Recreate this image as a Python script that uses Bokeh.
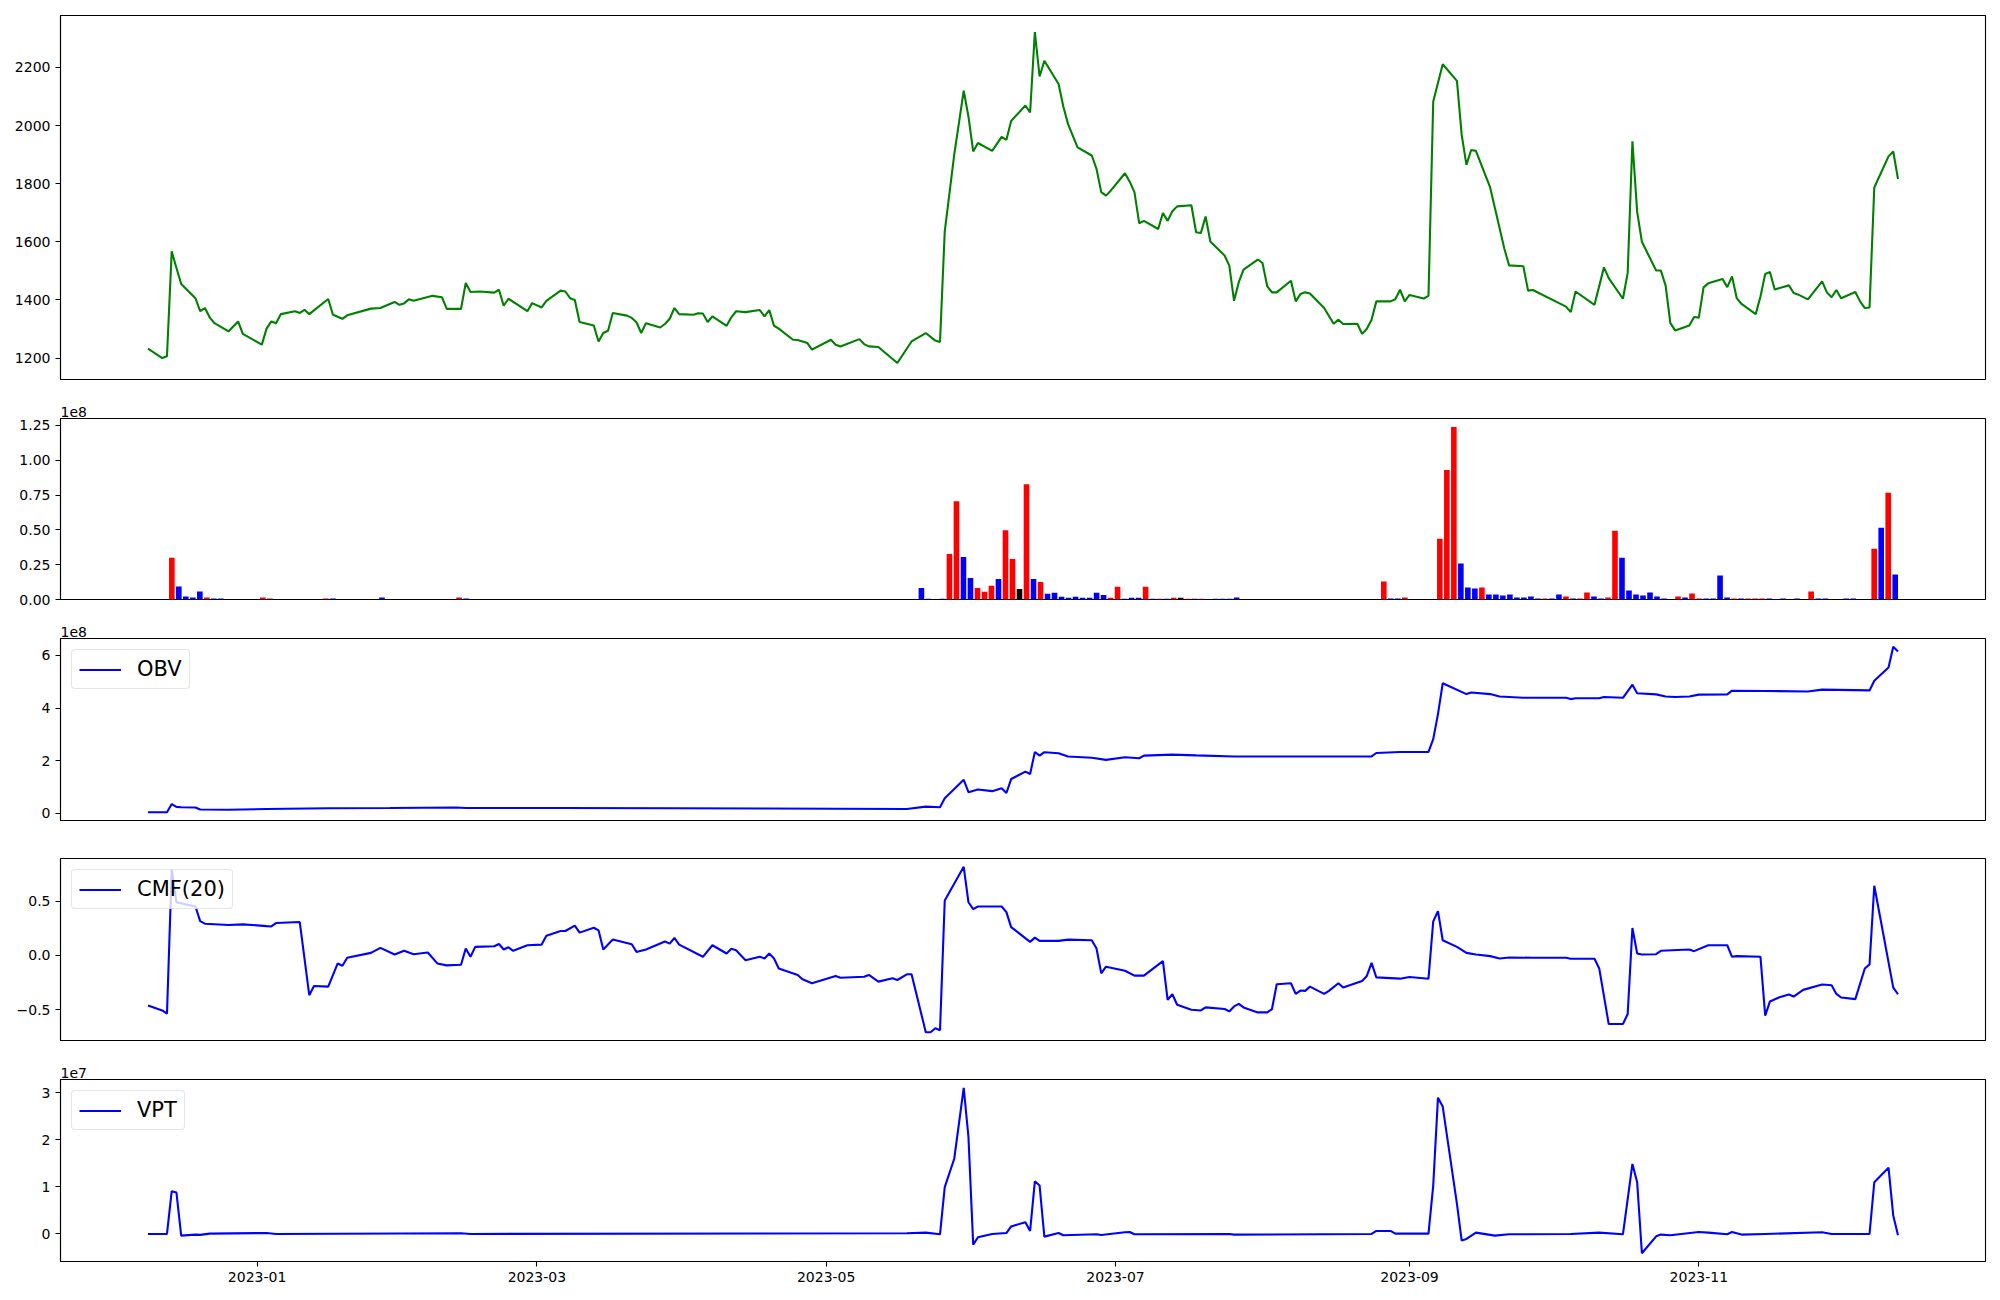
import numpy as np
import pandas as pd
from bokeh.plotting import figure
from bokeh.layouts import column
from bokeh.models import (Range1d, FixedTicker, CustomJSTickFormatter,
                          DatetimeTickFormatter, Title)
from bokeh.embed import file_html
from bokeh.resources import INLINE

FONT = "DejaVu Sans"
BASE = pd.Timestamp("2023-01-01")   # day offsets below are counted from this date

# ---------------- price (close) ----------------
price_day = [-23, -20, -19, -18, -17, -16, -13, -12, -11, -10, -9, -6, -4, -3, 1, 2, 3, 4, 5, 8, 9, 10, 11,
             15, 16, 18, 19, 24, 26, 29, 30, 31, 32, 33, 37, 39, 40, 43, 44, 45, 47, 50, 51, 52, 53, 57, 58,
             60, 61, 64, 65, 66, 67, 68, 71, 72, 73, 74, 75, 78, 79, 80, 81, 82, 85, 86, 87, 88, 89, 92, 93,
             94, 95, 96, 99, 100, 101, 103, 106, 107, 108, 109, 110, 113, 114, 116, 117, 121, 122, 123, 127,
             128, 129, 131, 135, 138, 141, 143, 144, 145, 147, 149, 150, 151, 152, 155, 157, 158, 159, 162,
             163, 164, 165, 166, 169, 170, 171, 173, 176, 177, 178, 179, 180, 183, 184, 185, 186, 187, 190,
             191, 192, 193, 194, 197, 198, 199, 200, 201, 204, 205, 206, 207, 208, 211, 212, 213, 214, 215,
             218, 219, 220, 221, 222, 225, 227, 228, 229, 232, 233, 234, 235, 236, 239, 240, 241, 242, 243,
             246, 247, 248, 250, 253, 254, 255, 256, 257, 260, 263, 264, 267, 268, 269, 276, 277, 278, 282,
             284, 285, 288, 289, 290, 291, 292, 295, 296, 297, 298, 299, 302, 303, 304, 305, 306, 309, 310,
             311, 312, 313, 316, 317, 318, 319, 320, 323, 324, 325, 327, 330, 331, 332, 333, 334, 337, 338,
             339, 340, 341, 344, 345, 346]
price_close = [1232, 1200, 1206, 1567, 1510, 1455, 1406, 1361, 1372, 1340, 1320, 1292, 1326, 1283, 1246, 1301,
               1326, 1320, 1351, 1361, 1355, 1366, 1351, 1403, 1349, 1335, 1347, 1370, 1372, 1393, 1383, 1388,
               1402, 1397, 1414, 1409, 1369, 1369, 1458, 1427, 1429, 1425, 1435, 1380, 1404, 1361, 1389, 1374,
               1397, 1432, 1429, 1406, 1400, 1324, 1312, 1257, 1286, 1294, 1355, 1346, 1338, 1323, 1286, 1320,
               1305, 1317, 1335, 1372, 1351, 1349, 1354, 1353, 1324, 1343, 1311, 1340, 1361, 1358, 1365, 1343,
               1365, 1311, 1301, 1263, 1262, 1252, 1229, 1263, 1246, 1240, 1265, 1248, 1240, 1238, 1183, 1257,
               1286, 1260, 1255, 1636, 1900, 2120, 2031, 1911, 1940, 1913, 1961, 1951, 2016, 2069, 2045, 2322,
               2169, 2223, 2143, 2066, 2005, 1925, 1897, 1851, 1771, 1759, 1776, 1836, 1807, 1771, 1664, 1672,
               1644, 1699, 1672, 1705, 1722, 1726, 1633, 1630, 1687, 1601, 1553, 1518, 1397, 1461, 1504, 1539,
               1527, 1447, 1426, 1426, 1466, 1395, 1420, 1426, 1422, 1372, 1318, 1332, 1317, 1318, 1283, 1301,
               1332, 1395, 1395, 1402, 1435, 1395, 1417, 1405, 1414, 2083, 2211, 2154, 1968, 1865, 1916, 1913,
               1787, 1576, 1519, 1516, 1432, 1434, 1377, 1358, 1429, 1383, 1512, 1475, 1404, 1493, 1946, 1703,
               1600, 1501, 1501, 1449, 1320, 1295, 1312, 1341, 1339, 1443, 1457, 1472, 1444, 1481, 1406, 1386,
               1351, 1412, 1489, 1496, 1436, 1450, 1424, 1418, 1402, 1464, 1426, 1409, 1434, 1406, 1427, 1395,
               1372, 1374, 1787, 1894, 1911, 1816]
price_ticks = [1200, 1400, 1600, 1800, 2000, 2200]

# ---------------- volume (plotted against session number) ----------------
N_SESSIONS = 250
vol_session = [3, 4, 5, 6, 7, 8, 9, 10, 16, 17, 25, 26, 33, 44, 45,
               110, 111, 113, 114, 115, 116, 117, 118, 119, 120, 121, 122, 123, 124, 125, 126, 127, 128, 129,
               130, 131, 132, 133, 134, 135, 136, 137, 138, 139, 140, 141, 142, 143, 144, 145, 146, 147, 148,
               149, 150, 152, 153, 154, 155,
               176, 177, 178, 179, 184, 185, 186, 187, 188, 189, 190, 191, 192, 193, 194, 195, 196, 197, 198,
               199, 200, 201, 202, 203, 204, 205, 206, 207, 208, 209, 210, 211, 212, 213, 214, 215, 216, 218,
               219, 220, 221, 222, 223, 224, 225, 226, 227, 228, 229, 230, 231, 233, 235, 237, 238, 239, 242,
               243, 246, 247, 248, 249]
vol_value = [3.0e7, 9.3e6, 2.1e6, 1.4e6, 5.7e6, 1.4e6, 0.7e6, 0.7e6, 1.4e6, 0.7e6, 0.7e6, 0.7e6, 1.4e6, 1.4e6, 0.7e6,
             8.3e6, 0.5e6, 0.5e6, 3.27e7, 7.06e7, 3.05e7, 1.55e7, 8.3e6, 5.5e6, 9.8e6, 1.48e7, 4.98e7, 2.91e7,
             7.6e6, 8.28e7, 1.48e7, 1.26e7, 4.1e6, 4.8e6, 1.9e6, 1.2e6, 1.9e6, 1.2e6, 1.2e6, 4.8e6, 3.3e6, 1.2e6,
             9.1e6, 0.5e6, 1.2e6, 1.2e6, 9.1e6, 0.5e6, 0.5e6, 0.5e6, 1.2e6, 1.2e6, 0.5e6, 0.5e6, 0.5e6, 0.5e6,
             0.5e6, 0.5e6, 1.4e6,
             1.29e7, 0.7e6, 0.7e6, 1.4e6, 4.36e7, 9.3e7, 1.238e8, 2.58e7, 8.6e6, 7.9e6, 8.6e6, 3.6e6, 3.6e6,
             2.9e6, 3.6e6, 1.4e6, 1.4e6, 2.1e6, 0.7e6, 0.7e6, 0.7e6, 3.6e6, 2.1e6, 0.7e6, 0.7e6, 5.0e6, 2.1e6,
             0.7e6, 1.4e6, 4.94e7, 3.0e7, 6.4e6, 3.6e6, 2.9e6, 5.0e6, 2.1e6, 0.7e6, 2.1e6, 1.4e6, 4.3e6, 0.7e6,
             0.7e6, 0.7e6, 1.72e7, 1.4e6, 0.7e6, 0.7e6, 0.7e6, 0.7e6, 0.7e6, 0.7e6, 0.7e6, 0.7e6, 5.7e6, 0.7e6,
             0.7e6, 0.7e6, 0.7e6, 3.65e7, 5.15e7, 7.66e7, 1.79e7]
# u = up day (red), d = down day (blue), n = unchanged (black); one letter per bar above
vol_dir = list(
    "uddddudd" "uuud" "dud"                                   # 3 .. 45
    "ddd" "uudd" "uuud" "uun" "udu" "dddd" "ddddd"            # 110 .. 136
    "uu" "ddd" "ud" "udun" "udu" "dddd"                       # 137 .. 155
    "uddu" "uuu" "dddu" "dddd" "dddd" "udd" "udu" "uddu"      # 176 .. 208
    "u" "dddddd" "d" "udu" "uddd" "du" "duuu" "d" "dd"        # 209 .. 235
    "udd" "dd" "udud"                                         # 237 .. 249
)
assert len(vol_dir) == len(vol_session) == len(vol_value)
vol_ticks = [0, 0.25e8, 0.5e8, 0.75e8, 1.0e8, 1.25e8]

# ---------------- OBV ----------------
obv_day = [-23, -19, -18, -17, -16, -13, -12, -6, 2, 15, 28, 42, 44, 64, 88, 107, 137, 141, 144, 145, 149,
           150, 152, 155, 157, 158, 159, 162, 163, 164, 165, 166, 169, 171, 176, 179, 183, 186, 187, 193,
           198, 206, 235, 236, 241, 247, 248, 249, 250, 255, 256, 260, 262, 267, 276, 277, 278, 283, 284,
           288, 290, 291, 295, 297, 299, 302, 304, 310, 311, 318, 327, 330, 340, 341, 344, 345, 346]
obv_value = [3.8e6, 3.8e6, 3.5e7, 2.4e7, 2.3e7, 2.2e7, 1.4e7, 1.3e7, 1.6e7, 1.9e7, 2.0e7, 2.2e7, 2.0e7,
             2.0e7, 1.9e7, 1.8e7, 1.6e7, 2.5e7, 2.3e7, 5.7e7, 1.27e8, 8.0e7, 9.0e7, 8.4e7, 9.5e7, 7.7e7,
             1.30e8, 1.58e8, 1.49e8, 2.33e8, 2.19e8, 2.32e8, 2.28e8, 2.16e8, 2.11e8, 2.03e8, 2.13e8, 2.09e8,
             2.19e8, 2.23e8, 2.20e8, 2.16e8, 2.16e8, 2.29e8, 2.33e8, 2.33e8, 2.82e8, 3.77e8, 4.94e8, 4.53e8,
             4.59e8, 4.53e8, 4.44e8, 4.39e8, 4.39e8, 4.34e8, 4.37e8, 4.37e8, 4.42e8, 4.39e8, 4.89e8, 4.56e8,
             4.52e8, 4.44e8, 4.42e8, 4.44e8, 4.51e8, 4.52e8, 4.66e8, 4.65e8, 4.63e8, 4.70e8, 4.67e8, 5.04e8,
             5.54e8, 6.33e8, 6.15e8]
obv_ticks = [0, 2e8, 4e8, 6e8]

# ---------------- CMF(20) ----------------
cmf_day = [-23, -20, -19, -18, -17, -13, -12, -11, -6, -3, 2, 3, 4, 9, 11, 12, 15, 17, 18, 19, 24, 26, 29, 31,
           33, 36, 38, 40, 43, 44, 45, 46, 50, 51, 52, 53, 54, 57, 60, 61, 64, 65, 67, 68, 71, 72, 73, 75,
           79, 80, 82, 86, 87, 88, 89, 94, 96, 99, 100, 101, 103, 106, 107, 108, 109, 110, 114, 115, 117,
           122, 123, 128, 129, 131, 134, 135, 137, 138, 141, 142, 143, 144, 145, 149, 150, 151, 152, 157,
           158, 159, 163, 164, 165, 169, 171, 176, 177, 178, 179, 183, 185, 187, 191, 192, 193, 194, 197,
           199, 200, 204, 205, 206, 207, 208, 211, 213, 214, 215, 218, 219, 220, 221, 222, 225, 226, 228,
           229, 233, 234, 235, 236, 241, 243, 247, 248, 249, 250, 253, 255, 257, 260, 262, 264, 269, 276,
           277, 282, 283, 285, 288, 289, 290, 291, 292, 295, 296, 302, 303, 306, 310, 311, 312, 317, 318,
           319, 321, 323, 324, 326, 330, 332, 333, 334, 337, 339, 340, 341, 345, 346]
cmf_value = [-0.459, -0.505, -0.535, 0.79, 0.489, 0.450, 0.316, 0.292, 0.280, 0.286, 0.270, 0.267, 0.298,
             0.307, -0.365, -0.280, -0.286, -0.073, -0.094, -0.021, 0.024, 0.070, 0.009, 0.043, 0.012, 0.027,
             -0.073, -0.091, -0.085, 0.064, -0.012, 0.079, 0.085, 0.106, 0.055, 0.076, 0.043, 0.094, 0.100,
             0.182, 0.225, 0.225, 0.274, 0.210, 0.255, 0.231, 0.055, 0.146, 0.103, 0.033, 0.055, 0.128, 0.109,
             0.161, 0.100, -0.012, 0.094, 0.018, 0.061, 0.049, -0.043, -0.012, -0.027, 0.018, -0.027, -0.119,
             -0.179, -0.219, -0.255, -0.188, -0.204, -0.195, -0.179, -0.240, -0.210, -0.225, -0.173, -0.173,
             -0.705, -0.705, -0.669, -0.687, 0.505, 0.815, 0.489, 0.426, 0.450, 0.450, 0.398, 0.261, 0.125,
             0.164, 0.134, 0.134, 0.146, 0.140, 0.064, -0.164, -0.103, -0.140, -0.185, -0.185, -0.052, -0.407,
             -0.356, -0.453, -0.498, -0.505, -0.477, -0.492, -0.514, -0.468, -0.444, -0.477, -0.523, -0.523,
             -0.492, -0.264, -0.255, -0.353, -0.322, -0.325, -0.286, -0.353, -0.325, -0.255, -0.295, -0.234,
             -0.188, -0.067, -0.201, -0.213, -0.198, -0.213, 0.313, 0.407, 0.140, 0.079, 0.024, 0.009, -0.006,
             -0.027, -0.018, -0.021, -0.021, -0.030, -0.030, -0.119, -0.629, -0.629, -0.538, 0.252, 0.018,
             0.009, 0.012, 0.043, 0.055, 0.040, 0.094, 0.094, -0.012, -0.006, -0.012, -0.553, -0.422, -0.383,
             -0.359, -0.377, -0.316, -0.267, -0.274, -0.353, -0.386, -0.401, -0.119, -0.082, 0.641, -0.295,
             -0.356]
cmf_ticks = [-0.5, 0.0, 0.5]

# ---------------- VPT ----------------
vpt_day = [-23, -19, -18, -17, -16, -13, -12, -10, 2, 4, 43, 45, 137, 141, 144, 145, 147, 149, 150, 151, 152,
           155, 158, 159, 162, 163, 164, 165, 166, 169, 170, 177, 178, 183, 184, 185, 205, 206, 235, 236,
           239, 240, 247, 248, 249, 250, 253, 254, 255, 257, 261, 264, 277, 283, 288, 290, 291, 292, 295,
           296, 298, 304, 306, 310, 311, 313, 318, 330, 332, 340, 341, 344, 345, 346]
vpt_value = [0, 0, 9.1e6, 8.8e6, -3.6e5, -1.4e5, -2.0e5, 0.7e5, 2.0e5, 0, 1.4e5, 0, 1.4e5, 2.8e5, -0.7e5,
             9.95e6, 1.6e7, 3.11e7, 2.06e7, -2.27e6, -7.0e5, 0, 2.0e5, 1.6e6, 2.5e6, 6.4e5, 1.12e7, 1.03e7,
             -5.7e5, 2.1e5, -2.8e5, -0.7e5, -2.1e5, 3.6e5, 4.3e5, -0.7e5, 0, -1.4e5, 0, 6.4e5, 6.4e5, 0.7e5,
             0.7e5, 1.03e7, 2.9e7, 2.71e7, 6.4e6, -1.42e6, -1.07e6, 2.8e5, -3.6e5, -0.7e5, 0, 2.8e5, -0.7e5,
             1.49e7, 1.10e7, -4.1e6, -5.0e5, -1.4e5, -2.8e5, 4.3e5, 2.8e5, -0.7e5, 4.3e5, -1.4e5, 0, 3.6e5,
             0, 0, 1.10e7, 1.41e7, 3.9e6, -2.8e5]
vpt_ticks = [0, 1e7, 2e7, 3e7]

date_ticks = ["2023-01-01", "2023-03-01", "2023-05-01", "2023-07-01", "2023-09-01", "2023-11-01"]

# ---------------- helpers ----------------
def to_dates(days):
    return (BASE + pd.to_timedelta(np.array(days), unit="D")).to_numpy()


def ms(ts):
    return pd.Timestamp(ts).value / 1e6


def pad_range(lo, hi, frac=0.05):
    span = hi - lo
    return lo - frac * span, hi + frac * span


d0, d1 = min(price_day), max(price_day)
xs, xe = pad_range(ms(BASE + pd.Timedelta(days=d0)), ms(BASE + pd.Timedelta(days=d1)))
date_range = Range1d(start=xs, end=xe)

FRAME_W = 1925
LEFT = 60


def make_fig(frame_h, top, bottom, x_range, y_range):
    p = figure(frame_width=FRAME_W, frame_height=frame_h, x_range=x_range, y_range=y_range,
               x_axis_type="datetime" if x_range is date_range else "linear",
               output_backend="svg", toolbar_location=None, title=None,
               min_border_left=LEFT, min_border_right=7, min_border_top=top, min_border_bottom=bottom)
    p.xgrid.visible = False
    p.ygrid.visible = False
    p.outline_line_color = "black"
    p.outline_line_width = 1.1
    p.outline_line_alpha = 1.0
    p.background_fill_color = "white"
    p.border_fill_color = "white"
    for ax in p.xaxis + p.yaxis:
        ax.axis_line_color = "black"
        ax.axis_line_width = 1.1
        ax.major_tick_out = 5
        ax.major_tick_in = 0
        ax.major_tick_line_width = 1.1
        ax.minor_tick_line_color = None
        ax.major_label_text_font = FONT
        ax.major_label_text_font_size = "14px"
        ax.major_label_text_color = "black"
        ax.major_label_standoff = 5
    return p


def offset_label(p, text):
    p.add_layout(Title(text=text, align="left", text_font=FONT, text_font_size="14px",
                       text_font_style="normal", text_color="black", standoff=3, offset=0), "above")


def style_legend(p):
    lg = p.legend[0]
    lg.location = "top_left"
    lg.label_text_font = FONT
    lg.label_text_font_size = "21px"
    lg.label_text_color = "black"
    lg.border_line_color = "#cccccc"
    lg.border_line_width = 1.1
    lg.background_fill_alpha = 0.8
    lg.glyph_width = 42
    lg.glyph_height = 21
    lg.label_height = 21
    lg.label_standoff = 16
    lg.padding = 7
    lg.margin = 11
    lg.spacing = 0
    if "border_radius" in lg.properties():
        lg.border_radius = 4


# ---- panel 1: price ----
py0, py1 = pad_range(min(price_close), max(price_close))
p1 = make_fig(364, 15, 19, date_range, Range1d(py0, py1))
p1.line(to_dates(price_day), price_close, line_color="green", line_width=2.1)
p1.yaxis.ticker = FixedTicker(ticks=price_ticks)
p1.xaxis.visible = False

# ---- panel 2: volume ----
vx0, vx1 = pad_range(-0.4, N_SESSIONS - 0.6)
p2 = make_fig(181, 20, 19, Range1d(vx0, vx1), Range1d(0, max(vol_value) * 1.05))
color_of = {"u": "#ff0000", "d": "#0000ff", "n": "#000000"}
p2.vbar(x=vol_session, top=vol_value, width=0.8, bottom=0,
        fill_color=[color_of[c] for c in vol_dir], line_color=None)
p2.yaxis.ticker = FixedTicker(ticks=vol_ticks)
p2.yaxis.formatter = CustomJSTickFormatter(code="return (tick/1e8).toFixed(2);")
p2.xaxis.visible = False
offset_label(p2, "1e8")

# ---- panel 3: OBV ----
oy0, oy1 = pad_range(min(obv_value), max(obv_value))
p3 = make_fig(182, 20, 18, date_range, Range1d(oy0, oy1))
p3.line(to_dates(obv_day), obv_value, line_color="#0000ff", line_width=2.1, legend_label="OBV")
p3.yaxis.ticker = FixedTicker(ticks=obv_ticks)
p3.yaxis.formatter = CustomJSTickFormatter(code="return (tick/1e8).toFixed(0);")
p3.xaxis.visible = False
offset_label(p3, "1e8")
style_legend(p3)

# ---- panel 4: CMF ----
cy0, cy1 = pad_range(min(cmf_value), max(cmf_value))
p4 = make_fig(182, 20, 19, date_range, Range1d(cy0, cy1))
p4.line(to_dates(cmf_day), cmf_value, line_color="#0000ff", line_width=2.1, legend_label="CMF(20)")
p4.yaxis.ticker = FixedTicker(ticks=cmf_ticks)
p4.yaxis.formatter = CustomJSTickFormatter(code="return tick.toFixed(1).replace('-', '\u2212');")
p4.xaxis.visible = False
style_legend(p4)

# ---- panel 5: VPT ----
vy0, vy1 = pad_range(min(vpt_value), max(vpt_value))
p5 = make_fig(182, 20, 30, date_range, Range1d(vy0, vy1))
p5.line(to_dates(vpt_day), vpt_value, line_color="#0000ff", line_width=2.1, legend_label="VPT")
p5.yaxis.ticker = FixedTicker(ticks=vpt_ticks)
p5.yaxis.formatter = CustomJSTickFormatter(code="return (tick/1e7).toFixed(0);")
p5.xaxis.ticker = FixedTicker(ticks=[ms(t) for t in date_ticks])
fmt = "%Y-%m"
p5.xaxis.formatter = DatetimeTickFormatter(years=fmt, months=fmt, days=fmt, hours=fmt, minutes=fmt,
                                           seconds=fmt, milliseconds=fmt, microseconds=fmt,
                                           minsec=fmt, hourmin=fmt)
offset_label(p5, "1e7")
style_legend(p5)

layout = column(p1, p2, p3, p4, p5, spacing=0)
open("out.html", "w").write(file_html(layout, INLINE))
